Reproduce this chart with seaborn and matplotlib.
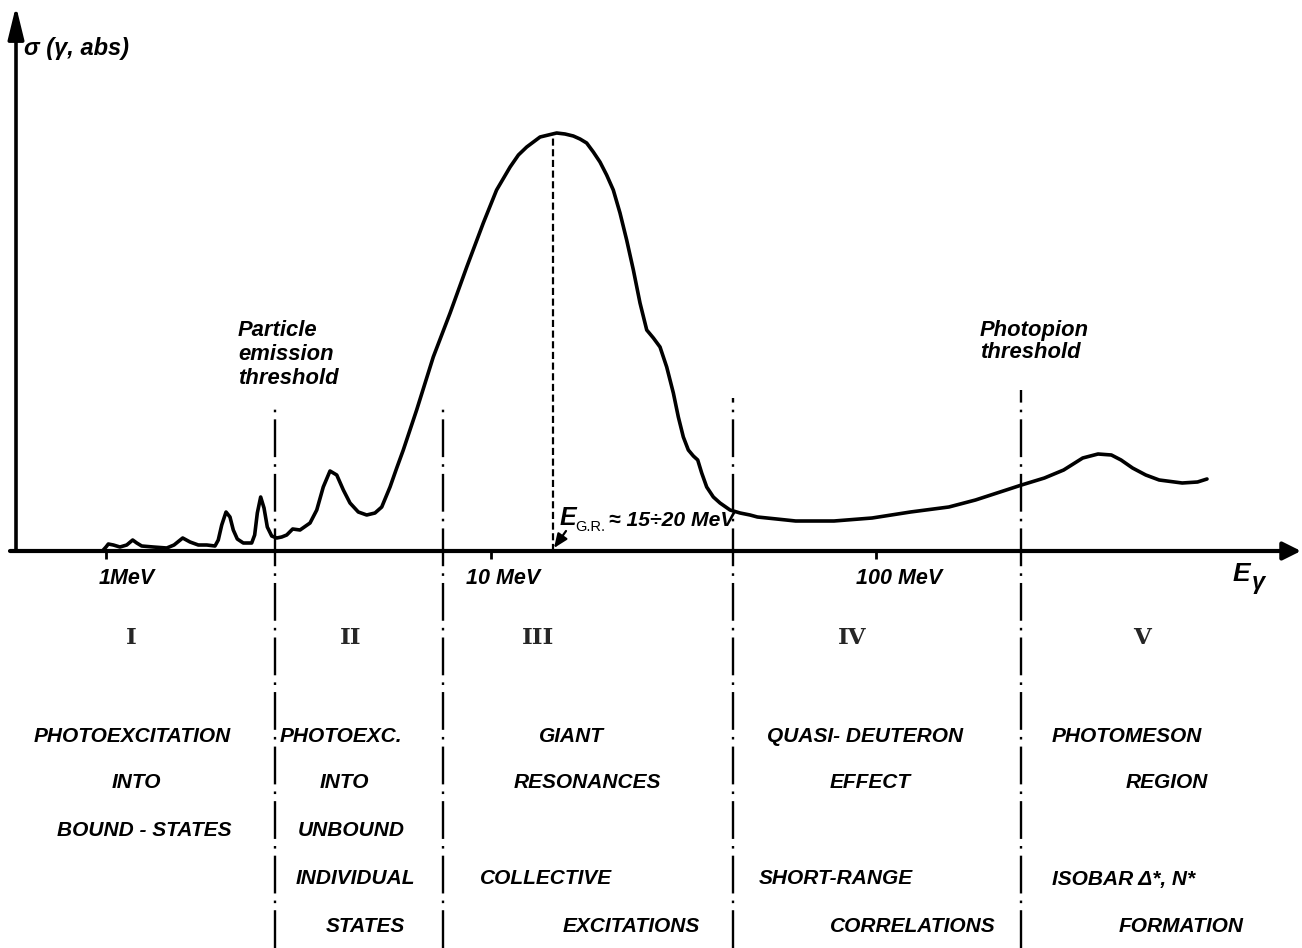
import numpy as np
import matplotlib
matplotlib.use("Agg")
import matplotlib.pyplot as plt
import seaborn as sns

# Total photo-absorption cross section sigma(gamma, abs), arbitrary units,
# against photon energy E_gamma in MeV (log scale).
energy_mev = [
    0.984, 1.000, 1.014, 1.045, 1.087, 1.132, 1.173, 1.202, 1.238, 1.327,
    1.438, 1.502, 1.582, 1.653, 1.737, 1.827, 1.919, 1.957, 1.998, 2.050,
    2.099, 2.141, 2.193, 2.273, 2.390, 2.433, 2.472, 2.522, 2.573, 2.624,
    2.694, 2.776, 2.860, 2.947, 3.054, 3.191, 3.388, 3.527, 3.667, 3.818,
    3.975, 4.135, 4.303, 4.522, 4.755, 4.996, 5.202, 5.467, 5.690, 5.918,
    6.41, 7.08, 7.83, 8.65, 9.55, 10.34, 11.21, 11.78, 12.38, 13.41,
    14.09, 14.81, 15.57, 16.36, 17.03, 17.72, 18.44, 19.19, 19.97, 20.78,
    21.63, 22.51, 23.43, 24.38, 25.38, 26.41, 27.48, 28.60, 29.76, 30.66,
    31.59, 32.55, 33.54, 34.43, 35.26, 36.33, 37.80, 39.34, 41.77, 44.36,
    47.08, 49.2, 55.2, 61.85, 77.8, 97.7, 122.9, 154.6, 181.3, 217.9,
    238.8, 273.8, 307.2, 344.3, 377.3, 408.7, 433.0, 463.8, 502.0, 543.9,
    624.2, 684.1, 724.0,
]
sigma_abs = [
    1, 4, 7, 6, 4, 6, 11, 8, 5, 4,
    3, 6, 13, 9, 6, 6, 5, 11, 26, 39,
    34, 21, 12, 8, 8, 16, 38, 54, 43, 24,
    15, 13, 14, 16, 22, 21, 28, 41, 64, 80,
    76, 61, 48, 39, 36, 38, 44, 64, 83, 101,
    141, 194, 238, 284, 328, 361, 384, 396, 404, 414,
    416, 418, 417, 415, 412, 408, 399, 389, 376, 361,
    338, 311, 281, 248, 221, 213, 204, 184, 158, 134,
    114, 101, 95, 91, 78, 64, 54, 48, 41, 38,
    36, 34, 32, 30, 30, 33, 39, 44, 51, 61,
    66, 73, 81, 93, 97, 96, 91, 83, 76, 71,
    68, 69, 72,
]

# Region boundaries (MeV) and the height where each boundary line begins
region_edges_mev = [2.75, 7.5, 42.5, 238.0]
region_edge_tops = [146, 146, 153, 161]
giant_resonance_mev = 14.5
giant_resonance_sigma = 418

tick_energies_mev = [1, 10, 100]
tick_labels = ["1MeV", "10 MeV", "100 MeV"]

region_numerals = ["I", "II", "III", "IV", "V"]
region_text = [
    ["PHOTOEXCITATION", "INTO", "BOUND - STATES"],
    ["PHOTOEXC.", "INTO", "UNBOUND", "INDIVIDUAL", "STATES"],
    ["GIANT", "RESONANCES", "", "COLLECTIVE", "EXCITATIONS"],
    ["QUASI- DEUTERON", "EFFECT", "", "SHORT-RANGE", "CORRELATIONS"],
    ["PHOTOMESON", "REGION", "", "ISOBAR \u0394*, N*", "FORMATION"],
]

# ---------------------------------------------------------------- layout
W, H = 1302, 948
sns.set_theme(style="white")
plt.rcParams["font.family"] = ["Liberation Sans", "DejaVu Sans"]

fig = plt.figure(figsize=(W / 100, H / 100), dpi=100)
ax = fig.add_axes([0, 0, 1, 1])
ax.set_xscale("log")
# 1 MeV sits 106 px from the left edge, one decade spans 385 px
decade_px, one_mev_px, axis_px = 385.0, 106.0, 551.0
ax.set_xlim(10 ** (-one_mev_px / decade_px), 10 ** ((W - one_mev_px) / decade_px))
ax.set_ylim(axis_px - H, axis_px)
ax.axis("off")


def e_at(px):
    return 10 ** ((px - one_mev_px) / decade_px)


def put(px, py, s, **kw):
    fig.text(px / W, 1 - py / H, s, **kw)


hand = dict(fontweight="bold", style="italic", color="black")

# cross-section curve
sns.lineplot(x=energy_mev, y=sigma_abs, ax=ax, color="black", lw=2.6,
             sort=False, estimator=None, legend=False,
             solid_joinstyle="round", solid_capstyle="round")

# axes with arrow heads
y_axis_e = e_at(16)
ax.annotate("", xy=(y_axis_e, axis_px - 6), xytext=(y_axis_e, 0),
            arrowprops=dict(arrowstyle="-|>,head_length=0.9,head_width=0.22",
                            lw=2.6, color="black", shrinkA=0, shrinkB=0,
                            mutation_scale=22))
ax.annotate("", xy=(e_at(1301), 0), xytext=(e_at(10), 0),
            arrowprops=dict(arrowstyle="-|>,head_length=0.6,head_width=0.3",
                            lw=3.0, color="black", shrinkA=0, shrinkB=0,
                            mutation_scale=18))

# tick marks
ax.vlines(tick_energies_mev, -8, 0, color="black", lw=2)

# region boundaries
ax.vlines(region_edges_mev, axis_px - H, region_edge_tops, color="black",
          lw=1.7, linestyles=[(0, (16, 3, 1.1, 3))])

# giant resonance energy
ax.vlines([giant_resonance_mev], 0, giant_resonance_sigma, color="black",
          lw=1.6, linestyles=[(0, (3.2, 1.6))])
ax.annotate("", xy=(e_at(554), 3), xytext=(e_at(566), 20),
            arrowprops=dict(arrowstyle="-|>,head_length=0.6,head_width=0.25",
                            lw=1.6, color="black", shrinkA=0, shrinkB=0,
                            mutation_scale=14))

# ---------------------------------------------------------------- text
put(24, 48, "\u03c3 (\u03b3, abs)", fontsize=17, va="center", ha="left", **hand)
put(1233, 574, "E", fontsize=19, va="center", ha="left", **hand)
put(1252, 582, "\u03b3", fontsize=17, va="center", ha="left", **hand)

for px, lab in zip([127, 503, 899], tick_labels):
    put(px, 578, lab, fontsize=15.5, ha="center", va="center", **hand)

for py, s in zip([330, 355, 378], ["Particle", "emission", "threshold"]):
    put(238, py, s, fontsize=15.8, ha="left", va="center", **hand)
for py, s in zip([330, 353], ["Photopion", "threshold"]):
    put(980, py, s, fontsize=15.8, ha="left", va="center", **hand)

put(560, 518, "E", fontsize=18, ha="left", va="center", **hand)
put(575, 527, "G.R.", fontsize=10.5, ha="left", va="center", color="black")
put(609, 520, "\u2248 15\u00f720 MeV", fontsize=15.2, ha="left", va="center", **hand)

numeral_x = [131, 351, 538, 852, 1142]
for px, num in zip(numeral_x, region_numerals):
    put(px, 638, num, fontsize=16.5, ha="center", va="center",
        family="DejaVu Serif", fontweight="bold")

row_y = [736, 783, 831, 879, 926]
column_x = [
    [132, 136, 144],
    [341, 344, 351, 355, 365],
    [571, 587, None, 546, 631],
    [865, 870, None, 836, 913],
    [1127, 1167, None, 1124, 1181],
]
for xs, lines in zip(column_x, region_text):
    for px, py, s in zip(xs, row_y, lines):
        if s:
            put(px, py, s, fontsize=15, ha="center", va="center", **hand)

fig.savefig("out.png", dpi=100, facecolor="white")
